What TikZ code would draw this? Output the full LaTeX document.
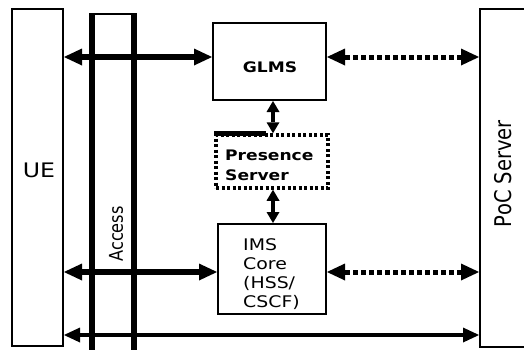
\documentclass[tikz,border=0pt]{standalone}
\usepackage{fontspec}
\setmainfont{DejaVu Sans}
\newfontfamily\wideface[FakeStretch=1.18]{DejaVu Sans}
\newfontfamily\tallface[FakeStretch=0.85]{DejaVu Sans}
\usetikzlibrary{arrows.meta}

\tikzset{
  block/.style={draw, line width=2pt, inner sep=0pt},
  bigtip/.style={Triangle[length=18pt,width=17pt,line width=0pt]},
  smalltip/.style={Triangle[length=11pt,width=13pt,line width=0pt]},
  fatarrow/.style={line width=6pt, {Triangle[length=18pt,width=17pt,line width=0pt]}-{Triangle[length=18pt,width=17pt,line width=0pt]}},
  dotarrow/.style={fatarrow, line width=5pt, dash pattern=on 5pt off 3pt},
  botarrow/.style={line width=4pt, {Triangle[length=16pt,width=15pt,line width=0pt]}-{Triangle[length=16pt,width=15pt,line width=0pt]}},
  shortarrow/.style={line width=4pt, {Triangle[length=11pt,width=13pt,line width=0pt]}-{Triangle[length=11pt,width=13pt,line width=0pt]}},
  label/.style={inner sep=0pt}
}

\begin{document}
\begin{tikzpicture}[x=1pt, y=-1pt]
  \path[use as bounding box, clip] (0,0) rectangle (524,349);

  % boxes
  \node[block, minimum width=51, minimum height=337] (ue) at (37.5,177.5) {};
  \node[draw, line width=2pt, minimum width=40, minimum height=350] (access) at (113,189) {};
  \draw[line width=6pt] (access.north west) -- (access.south west);
  \draw[line width=6pt] (access.north east) -- (access.south east);
  \node[block, minimum width=113, minimum height=77] (glms) at (269.5,61.5) {};
  \node[draw, line width=3.5pt, dash pattern=on 3pt off 2.5pt, inner sep=0pt,
        minimum width=112, minimum height=53] (pres) at (272,161.5) {};
  \draw[line width=5pt] (pres.north west) -- ++(52,0);
  \node[block, minimum width=108, minimum height=90] (ims) at (272,269) {};
  \node[block, minimum width=100, minimum height=338] (poc) at (530,178) {};

  % texts
  \node[label, font=\wideface\fontsize{20}{24}\selectfont] (uetxt) at (39,170.5) {UE};
  \node[label, font=\tallface\fontsize{19}{23}\selectfont, rotate=90] (acctxt) at (116,234) {Access};
  \node[label, font=\wideface\bfseries\fontsize{14.5}{20}\selectfont] (glmstxt) at (270,67.5) {GLMS};
  \node[label, font=\wideface\bfseries\fontsize{14.5}{20}\selectfont, align=left, anchor=north west]
    (prestxt) at (225,150) {Presence\\Server};
  \node[label, font=\wideface\fontsize{16}{19}\selectfont, align=left, anchor=north west]
    (imstxt) at (243,238) {IMS\\Core\\(HSS/\\CSCF)};
  \node[label, font=\tallface\fontsize{23}{27}\selectfont, rotate=90] (poctxt) at (503,173.5) {PoC Server};

  % connectors
  \coordinate (topline) at (0,57);
  \coordinate (midline) at (0,272);
  \coordinate (botline) at (0,335);
  \coordinate (vline) at (273,0);
  \draw[fatarrow] (topline -| ue.east) -- (topline -| glms.west);
  \draw[dotarrow] (topline -| glms.east) -- (topline -| poc.west);
  \draw[shortarrow] (vline |- glms.south) -- (vline |- pres.north);
  \draw[shortarrow] (vline |- pres.south) -- (vline |- ims.north);
  \draw[fatarrow] (midline -| ue.east) -- (midline -| ims.west);
  \draw[dotarrow] (midline -| ims.east) -- (midline -| poc.west);
  \draw[botarrow] (botline -| ue.east) -- (botline -| poc.west);
\end{tikzpicture}
\end{document}
